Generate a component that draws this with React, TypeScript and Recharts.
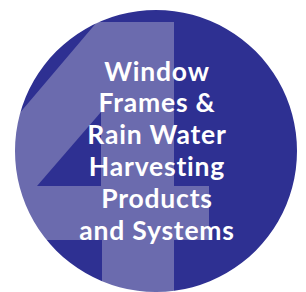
import React from "react";
import {
  ComposedChart,
  Area,
  Scatter,
  XAxis,
  YAxis,
  ReferenceArea,
  PieChart,
  Pie,
} from "recharts";

const W = 306;
const H = 292;
const DARK = "#2e3092";
const LIGHT = "#6b6bae";

// big "4" glyph outline, in picture coordinates (y grows down)
const fourBody = [
  { x: -88, band: [240, 240] },
  { x: 97, band: [22, 240] },
  { x: 174, band: [22, 240] },
  { x: 174, band: [186, 240] },
  { x: 209, band: [186, 240] },
  { x: 209, band: [240, 240] },
];
const fourStem = [
  { x: 102, band: [240, 300] },
  { x: 174, band: [240, 300] },
];
const fourHole = [
  { x: 37, band: [186, 186] },
  { x: 101, band: [112, 186] },
];

const titleLines = [
  "Window",
  "Frames &",
  "Rain Water",
  "Harvesting",
  "Products",
  "and Systems",
];
const lineBaselines = [81, 112, 144, 176, 208, 240];

const ring = [{ name: "outside", value: 1 }];

const textRows = titleLines.map((t, i) => ({ x: 157, y: lineBaselines[i], label: t }));

const TextShape = (props: any) => (
  <text
    x={props.cx}
    y={props.cy}
    textAnchor="middle"
    fill="#ffffff"
    fontFamily="Lato, 'Open Sans', sans-serif"
    fontWeight={700}
    fontSize={26.5}
    letterSpacing={0.8}
  >
    {props.payload.label}
  </text>
);

export default function App() {
  return (
    <div style={{ position: "absolute", left: 0, top: 0, width: W, height: H, background: "#fff" }}>
      <div style={{ position: "absolute", left: 0, top: 0 }}>
        <ComposedChart width={W} height={H} margin={{ top: 0, right: 0, bottom: 0, left: 0 }}>
          <XAxis type="number" dataKey="x" domain={[0, W]} allowDataOverflow hide />
          <YAxis type="number" domain={[0, H]} reversed allowDataOverflow hide />
          <ReferenceArea x1={0} x2={W} y1={0} y2={H} fill={DARK} fillOpacity={1} stroke="none" />
          <Area
            data={fourBody}
            dataKey="band"
            type="linear"
            fill={LIGHT}
            fillOpacity={1}
            stroke="none"
            isAnimationActive={false}
          />
          <Area
            data={fourStem}
            dataKey="band"
            type="linear"
            fill={LIGHT}
            fillOpacity={1}
            stroke="none"
            isAnimationActive={false}
          />
          <Area
            data={fourHole}
            dataKey="band"
            type="linear"
            fill={DARK}
            fillOpacity={1}
            stroke="none"
            isAnimationActive={false}
          />
          <Scatter data={textRows} dataKey="y" shape={TextShape} isAnimationActive={false} />
        </ComposedChart>
      </div>
      <div style={{ position: "absolute", left: 0, top: 0 }}>
        <PieChart width={W} height={H} margin={{ top: 0, right: 0, bottom: 0, left: 0 }}>
          <Pie
            data={ring}
            dataKey="value"
            cx={156}
            cy={151}
            innerRadius={141}
            outerRadius={260}
            fill="#ffffff"
            stroke="none"
            isAnimationActive={false}
          />
        </PieChart>
      </div>
    </div>
  );
}
